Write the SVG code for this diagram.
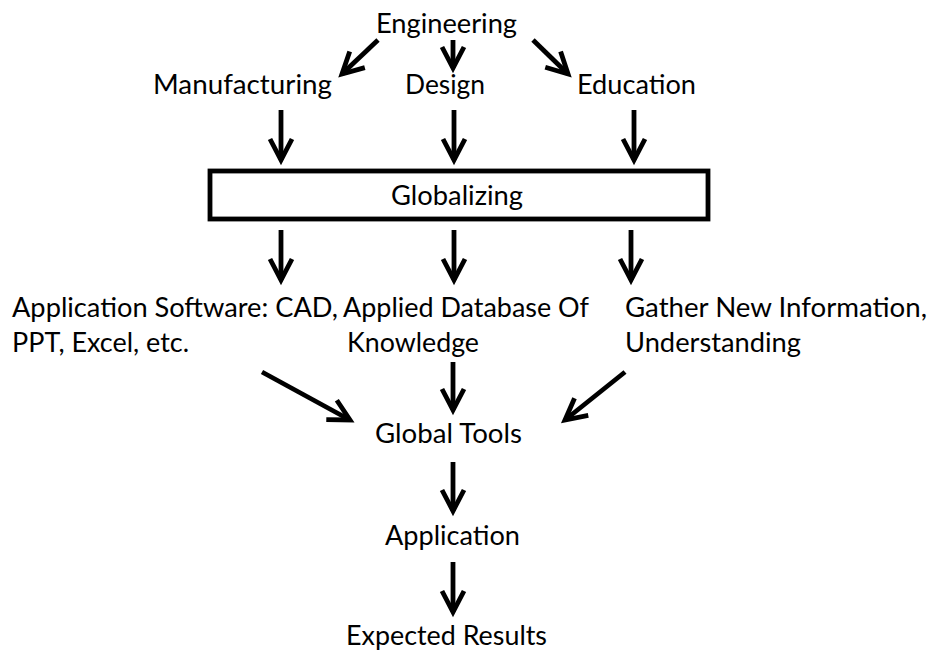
<svg xmlns="http://www.w3.org/2000/svg" width="936" height="652" viewBox="0 0 936 652">
<style>
text{font-family:"Lato","Open Sans","Liberation Sans",sans-serif;font-size:26.4px;fill:#000}
.c{stroke:#000;stroke-width:4.8;fill:none}
</style>
<defs>
<marker id="ah" markerUnits="userSpaceOnUse" orient="auto" refX="0" refY="0" markerWidth="40" markerHeight="40" overflow="visible">
<path d="M-21,-11 L0,0 L-21,11" fill="none" stroke="#000" stroke-width="4.8"/>
</marker>
</defs>
<rect width="936" height="652" fill="#fff"/>
<g id="engineering"><text x="376" y="33" textLength="141" lengthAdjust="spacingAndGlyphs">Engineering</text></g>
<g id="manufacturing"><text x="153" y="94" textLength="179" lengthAdjust="spacingAndGlyphs">Manufacturing</text></g>
<g id="design"><text x="405" y="94" textLength="80" lengthAdjust="spacingAndGlyphs">Design</text></g>
<g id="education"><text x="577" y="94" textLength="119" lengthAdjust="spacingAndGlyphs">Education</text></g>
<g id="globalizing"><rect x="210" y="171" width="498" height="48" class="c"/><text x="391" y="205" textLength="132" lengthAdjust="spacingAndGlyphs">Globalizing</text></g>
<g id="software"><text x="12" y="317" textLength="326" lengthAdjust="spacingAndGlyphs">Application Software: CAD,</text><text x="12" y="352" textLength="177" lengthAdjust="spacingAndGlyphs">PPT, Excel, etc.</text></g>
<g id="database"><text x="343" y="317" textLength="246" lengthAdjust="spacingAndGlyphs">Applied Database Of</text><text x="347" y="352" textLength="132" lengthAdjust="spacingAndGlyphs">Knowledge</text></g>
<g id="gather"><text x="625" y="317" textLength="302" lengthAdjust="spacingAndGlyphs">Gather New Information,</text><text x="625" y="352" textLength="176" lengthAdjust="spacingAndGlyphs">Understanding</text></g>
<g id="globaltools"><text x="375" y="443" textLength="147" lengthAdjust="spacingAndGlyphs">Global Tools</text></g>
<g id="application"><text x="385" y="545" textLength="135" lengthAdjust="spacingAndGlyphs">Application</text></g>
<g id="expected"><text x="346" y="645" textLength="201" lengthAdjust="spacingAndGlyphs">Expected Results</text></g>
<g id="connectors" class="c">
<line x1="378" y1="40" x2="342" y2="74" marker-end="url(#ah)"/>
<line x1="453" y1="40" x2="453" y2="68" marker-end="url(#ah)"/>
<line x1="533" y1="40" x2="568" y2="74" marker-end="url(#ah)"/>
<line x1="281" y1="110" x2="281" y2="160" marker-end="url(#ah)"/>
<line x1="454" y1="110" x2="454" y2="160" marker-end="url(#ah)"/>
<line x1="634" y1="110" x2="634" y2="160" marker-end="url(#ah)"/>
<line x1="281" y1="230" x2="281" y2="280" marker-end="url(#ah)"/>
<line x1="454" y1="230" x2="454" y2="280" marker-end="url(#ah)"/>
<line x1="631" y1="230" x2="631" y2="280" marker-end="url(#ah)"/>
<line x1="262" y1="372" x2="350" y2="420" marker-end="url(#ah)"/>
<line x1="453" y1="362" x2="453" y2="410" marker-end="url(#ah)"/>
<line x1="625" y1="372" x2="565" y2="420" marker-end="url(#ah)"/>
<line x1="453" y1="462" x2="453" y2="511" marker-end="url(#ah)"/>
<line x1="453" y1="562" x2="453" y2="612" marker-end="url(#ah)"/>
</g>
</svg>
